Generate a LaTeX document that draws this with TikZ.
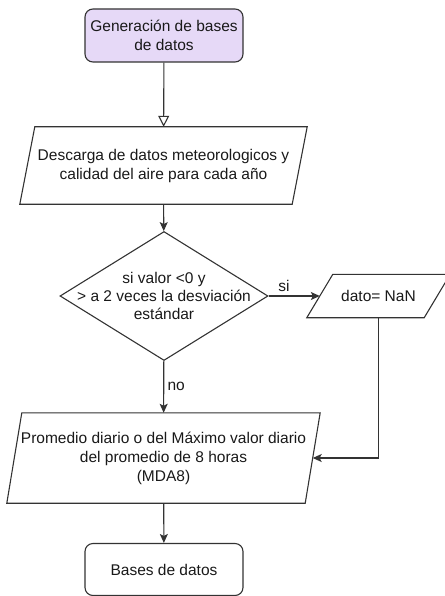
\documentclass[tikz,border=0pt]{standalone}
\usepackage{fontspec}
\setmainfont{Liberation Sans}
\usetikzlibrary{arrows.meta,shapes.geometric}
\definecolor{lavender}{HTML}{E6D9F7}
\definecolor{linegray}{HTML}{333333}
\newcommand{\slantframe}[2]{\draw[draw=linegray, line width=1.1pt] ([xshift=#2]#1.north west) -- ([xshift=#2]#1.north east) -- ([xshift=-#2]#1.south east) -- ([xshift=-#2]#1.south west) -- cycle;}
\tikzset{
	txt/.style={font=\fontsize{15.5}{19}\selectfont, text=black!90, align=center},
	startbox/.style={txt, draw=linegray, fill=lavender, rounded corners=8pt, line width=1.1pt, minimum width=158pt, minimum height=53pt, inner sep=0pt},
	endbox/.style={txt, draw=linegray, rounded corners=8pt, line width=1.1pt, minimum width=158pt, minimum height=52pt, inner sep=0pt},
	iobox/.style={txt, inner sep=0pt},
	decision/.style={draw=linegray, diamond, line width=1.1pt, minimum width=208pt, minimum height=129pt, inner sep=0pt},
	flow/.style={draw=linegray, line width=1.1pt, -{Stealth[length=9pt,width=8pt,inset=2pt]}},
	openflow/.style={draw=linegray, line width=1.1pt, -{Triangle[open,length=11pt,width=11pt]}}
}
\begin{document}
\begin{tikzpicture}[x=1pt,y=-1pt]
	\useasboundingbox (0,0) rectangle (444,596);
	\node (gen) [startbox] at (164,35.5) {Generación de bases\\de datos};
	\node (desc) [iobox, minimum width=272pt, minimum height=77pt] at (163.5,165.5) {Descarga de datos meteorologicos y\\calidad del aire para cada año};
	\node (chk) [decision] at (164,296) {};
	\node (chktxt) [txt, font=\fontsize{15.5}{18}\selectfont] at (chk) {si valor <0 y\\> a 2 veces la desviación\\estándar};
	\node (nan) [iobox, minimum width=117pt, minimum height=43pt] at (378.5,296) {dato= NaN};
	\node (mda) [iobox, minimum width=298pt, minimum height=90pt] at (163.5,458) {Promedio diario o del Máximo valor diario\\del promedio de 8 horas\\(MDA8)};
	\node (bases) [endbox] at (164,569.5) {Bases de datos};
	\slantframe{desc}{7.5pt}
	\slantframe{nan}{13pt}
	\slantframe{mda}{7.5pt}
	\draw[openflow] (gen) -- (desc);
	\draw[flow] (desc) -- (chk);
	\draw[flow] (chk) -- node[txt, above, pos=0.3] {si} (nan);
	\draw[flow] (chk) -- node[txt, right, pos=0.5] {no} (mda);
	\draw[flow] (nan.south) |- (mda.east);
	\draw[flow] (mda) -- (bases);
\end{tikzpicture}
\end{document}
